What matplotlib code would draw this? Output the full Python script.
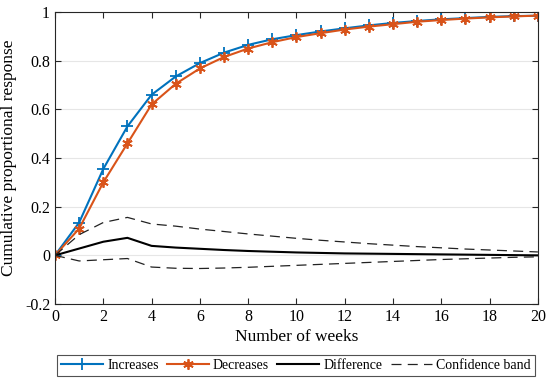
import matplotlib
matplotlib.use("Agg")
from matplotlib import pyplot as plt
from matplotlib.ticker import FuncFormatter

plt.rcParams['font.family'] = ['Liberation Serif', 'DejaVu Serif']
plt.rcParams['axes.unicode_minus'] = False

weeks = list(range(0, 21))
increases = [0, 0.135, 0.355, 0.53, 0.66, 0.735, 0.79, 0.833, 0.865, 0.888, 0.905,
             0.92, 0.933, 0.945, 0.955, 0.963, 0.97, 0.975, 0.98, 0.983, 0.985]
decreases = [0, 0.11, 0.30, 0.46, 0.62, 0.705, 0.768, 0.815, 0.85, 0.876, 0.897,
             0.913, 0.928, 0.94, 0.95, 0.96, 0.967, 0.973, 0.978, 0.982, 0.985]
difference = [0, 0.028, 0.056, 0.072, 0.039, 0.032, 0.027, 0.022, 0.018, 0.015, 0.012,
              0.010, 0.008, 0.007, 0.006, 0.005, 0.004, 0.003, 0.002, 0.001, 0.0]
upper_band = [0, 0.085, 0.135, 0.156, 0.129, 0.12, 0.108, 0.098, 0.088, 0.079, 0.07,
              0.062, 0.055, 0.048, 0.042, 0.036, 0.031, 0.026, 0.022, 0.018, 0.014]
lower_band = [0, -0.023, -0.018, -0.013, -0.048, -0.053, -0.054, -0.052, -0.049, -0.045, -0.041,
              -0.037, -0.033, -0.029, -0.025, -0.021, -0.017, -0.014, -0.011, -0.008, -0.006]

fig = plt.figure(figsize=(5.5, 3.81), dpi=100)
ax = fig.add_axes([0.1, 0.202, 0.878, 0.7665])

ax.plot(weeks, increases, color='#0072BD', lw=1.5, marker='+', ms=8, mew=1.3, label='Increases')
ax.plot(weeks, decreases, color='#D95319', lw=1.5, marker=(6, 2, 0), ms=7.5, mew=1.3, label='Decreases')
ax.plot(weeks, difference, color='black', lw=1.5, label='Difference')
ax.plot(weeks, upper_band, color='#222222', lw=0.9, ls=(0, (8, 5)), label='Confidence band')
ax.plot(weeks, lower_band, color='#222222', lw=0.9, ls=(0, (8, 5)))

ax.set_xlim(0, 20)
ax.set_ylim(-0.2, 1)
ax.set_xticks(range(0, 21, 2))
ax.set_yticks([-0.2, 0, 0.2, 0.4, 0.6, 0.8, 1])
ax.yaxis.set_major_formatter(FuncFormatter(lambda v, p: '{:g}'.format(round(v, 1))))
ax.grid(axis='y', color='#e6e6e6', lw=0.8)
ax.set_axisbelow(True)
ax.tick_params(direction='in', top=True, right=True, labelsize=11.5, length=4,
               color='#262626', width=0.8)
for s in ax.spines.values():
    s.set_color('#262626')
    s.set_linewidth(0.8)

ax.set_xlabel('Number of weeks', fontsize=12.5, labelpad=3)
ax.set_ylabel('Cumulative proportional response', fontsize=12.5, labelpad=6)

leg = ax.legend(loc='upper center', bbox_to_anchor=(0.4995, -0.175), ncol=4, fontsize=10,
                frameon=True, fancybox=False, edgecolor='#262626', handlelength=3.0,
                handletextpad=0.3, columnspacing=0.6, borderpad=0.3, borderaxespad=0)
leg.get_frame().set_linewidth(0.8)

fig.savefig('out.png', dpi=100)
